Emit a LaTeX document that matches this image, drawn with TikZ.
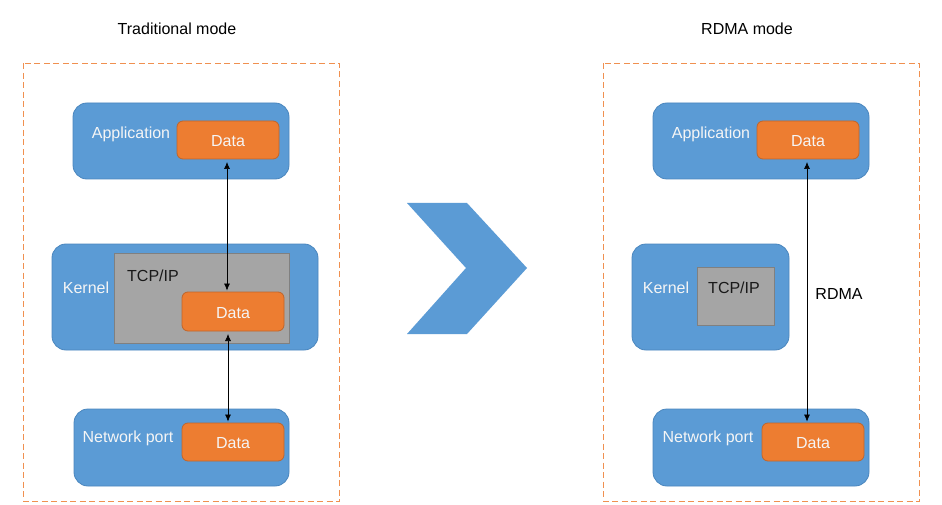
\documentclass[tikz,border=0pt]{standalone}
\usepackage{fontspec}
\setmainfont{Liberation Sans}
\usetikzlibrary{arrows.meta,calc}
\definecolor{bluefill}{HTML}{5B9BD5}
\definecolor{blueline}{HTML}{4A86BE}
\definecolor{orfill}{HTML}{ED7D31}
\definecolor{orline}{HTML}{C0652A}
\definecolor{grfill}{HTML}{A5A5A5}
\definecolor{grline}{HTML}{808080}
\definecolor{txtwhite}{HTML}{F5F5F5}
\tikzset{
  layerbox/.style={draw=blueline, fill=bluefill, line width=0.8pt, rounded corners=14pt},
  databox/.style={draw=orline, fill=orfill, line width=0.8pt, rounded corners=6pt},
  tcpbox/.style={draw=grline, fill=grfill, line width=0.8pt},
  dashframe/.style={draw=orfill!85!white, line width=1.3pt, dash pattern=on 6pt off 3.5pt},
  lbl/.style={font=\fontsize{16}{19}\selectfont, text=txtwhite, inner sep=0pt, yshift=-1.5pt},
  blk/.style={font=\fontsize{16}{19}\selectfont, text=black, inner sep=0pt, yshift=-1pt},
  conn/.style={draw=black, line width=0.7pt, {Latex[length=7pt,width=6pt]}-{Latex[length=7pt,width=6pt]}},
  chev/.style={fill=bluefill, draw=none}
}
\begin{document}
\begin{tikzpicture}[x=1pt,y=-1pt]
\useasboundingbox (0,0) rectangle (942,505);
\fill[white] (0,0) rectangle (942,505);

% titles
\node[blk] (t1) at (177,28) {Traditional mode};
\node[blk] (t2) at (747,28) {RDMA mode};

% frames
\draw[dashframe] (23.5,63.5) rectangle (339.5,501.5);
\draw[dashframe] (603.5,63.5) rectangle (919.5,501.5);

% ---------- left side ----------
\draw[layerbox] (73,103) rectangle (289,179);
\node[lbl] (lapp) at (131,133) {Application};
\node[databox, minimum width=102pt, minimum height=38pt, inner sep=0pt] (ldata1) at (228,140) {};
\node[lbl] at (ldata1) {Data};

\draw[layerbox] (52,244) rectangle (318,350);
\draw[tcpbox] (114,253) rectangle (289,343);
\node[lbl] (lker) at (86,286) {Kernel};
\node[blk, text=black!90] (ltcp) at (153,275) {TCP/IP};
\node[databox, minimum width=102pt, minimum height=39pt, inner sep=0pt] (ldata2) at (233,311.5) {};
\node[lbl] at (ldata2) {Data};

\draw[layerbox] (74,409) rectangle (289,486);
\node[lbl] (lnet) at (128,437) {Network port};
\node[databox, minimum width=102pt, minimum height=38pt, inner sep=0pt] (ldata3) at (233,442) {};
\node[lbl] at (ldata3) {Data};

\coordinate (la) at (227,159);
\coordinate (lb) at (228,331);
\draw[conn, shorten <=3pt, shorten >=1pt] (la) -- (la |- ldata2.north);
\draw[conn, shorten <=3pt, shorten >=1pt] (lb) -- (lb |- ldata3.north);

% ---------- chevron ----------
\fill[chev] (407,203) -- (467,203) -- (527,268) -- (467,334) -- (407,334) -- (466,268) -- cycle;

% ---------- right side ----------
\draw[layerbox] (653,103) rectangle (869,179);
\node[lbl] (rapp) at (711,133) {Application};
\node[databox, minimum width=102pt, minimum height=38pt, inner sep=0pt] (rdata1) at (808,140) {};
\node[lbl] at (rdata1) {Data};

\draw[layerbox] (632,244) rectangle (789,350);
\draw[tcpbox] (697,267) rectangle (774,325);
\node[lbl] (rker) at (666,286) {Kernel};
\node[blk, text=black!90] (rtcp) at (734,287) {TCP/IP};

\draw[layerbox] (653,409) rectangle (869,486);
\node[lbl] (rnet) at (708,437) {Network port};
\node[databox, minimum width=102pt, minimum height=38pt, inner sep=0pt] (rdata3) at (813,442) {};
\node[lbl] at (rdata3) {Data};

\coordinate (ra) at (807,159);
\draw[conn, shorten <=3pt, shorten >=1pt] (ra) -- (ra |- rdata3.north);
\node[blk] (rdma) at (839,293) {RDMA};
\end{tikzpicture}
\end{document}
